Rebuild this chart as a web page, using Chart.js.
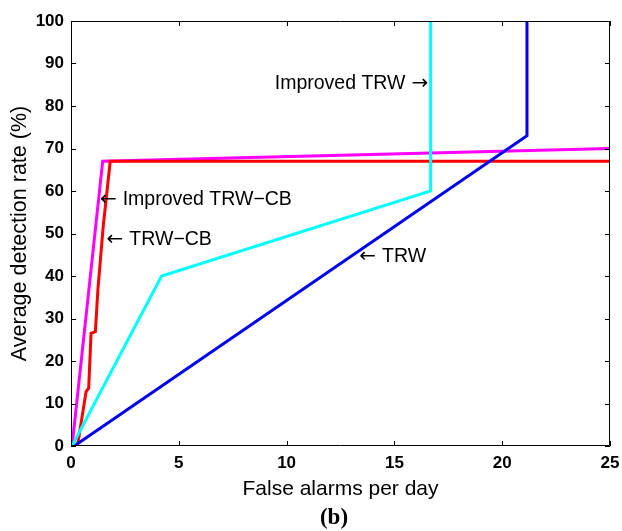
<!DOCTYPE html>
<html>
<head>
<meta charset="utf-8">
<script src="https://cdn.jsdelivr.net/npm/chart.js@4/dist/chart.umd.min.js"></script>
<style>
html,body{margin:0;padding:0;background:#fff;}
#wrap{width:622px;height:531px;}
</style>
</head>
<body>
<div id="wrap"><canvas id="c" width="622" height="531"></canvas></div>
<script>
// ---- data ----
const xTickValues = [0, 5, 10, 15, 20, 25];
const yTickValues = [0, 10, 20, 30, 40, 50, 60, 70, 80, 90, 100];

const trwX = [0.15, 21.15, 21.15];
const trwY = [0, 73, 100];

const improvedTrwX = [0.05, 4.2, 16.68, 16.68];
const improvedTrwY = [0, 40, 60, 100];

const trwCbX = [0.08, 0.3, 0.7, 0.82, 0.93, 1.13, 1.25, 1.5, 1.82, 25];
const trwCbY = [0, 0, 12.8, 13.6, 26.5, 26.9, 37, 52, 67, 67];

const improvedTrwCbX = [0.05, 1.47, 25];
const improvedTrwCbY = [0, 67, 70];

const seriesNames = ['Improved TRW', 'TRW', 'TRW\u2212CB', 'Improved TRW\u2212CB'];

// annotation texts, arrow glyphs and their anchor (arrow tip side) in data units
const noteTexts = ['Improved TRW', 'Improved TRW\u2212CB', 'TRW\u2212CB', 'TRW'];
const noteArrows = ['\u2192', '\u2190', '\u2190', '\u2190'];
const noteX = [16.57, 1.34, 1.65, 13.37];
const noteY = [85.2, 57.9, 48.5, 44.5];
const noteSide = ['right', 'left', 'left', 'left'];

const captionText = '(b)';

function pts(xs, ys) { return xs.map((x, i) => ({x: x, y: ys[i]})); }

const framePlugin = {
  id: 'frame',
  afterDatasetsDraw(chart) {
    const {ctx, chartArea: a, scales: {x, y}} = chart;
    ctx.save();
    ctx.strokeStyle = '#000';
    ctx.lineWidth = 1;
    ctx.beginPath();
    ctx.rect(a.left + 0.5, a.top + 0.5, a.right - a.left - 1, a.bottom - a.top - 1);
    ctx.stroke();
    const tl = 5;
    ctx.beginPath();
    xTickValues.forEach(v => {
      const px = Math.round(x.getPixelForValue(v)) + 0.5;
      ctx.moveTo(px, a.bottom); ctx.lineTo(px, a.bottom - tl);
      ctx.moveTo(px, a.top); ctx.lineTo(px, a.top + tl);
    });
    yTickValues.forEach(v => {
      const py = Math.round(y.getPixelForValue(v)) + 0.5;
      ctx.moveTo(a.left, py); ctx.lineTo(a.left + tl, py);
      ctx.moveTo(a.right, py); ctx.lineTo(a.right - tl, py);
    });
    ctx.stroke();
    // annotations
    const textFont = '19.5px "Liberation Sans", Arial, sans-serif';
    const arrowFont = '20px "DejaVu Sans", sans-serif';
    ctx.fillStyle = '#000';
    ctx.textBaseline = 'middle';
    const gap = 6;
    noteTexts.forEach((t, i) => {
      const px = x.getPixelForValue(noteX[i]);
      const py = y.getPixelForValue(noteY[i]);
      ctx.font = arrowFont;
      const aw = ctx.measureText(noteArrows[i]).width;
      if (noteSide[i] === 'left') {
        ctx.textAlign = 'left';
        ctx.fillText(noteArrows[i], px, py);
        ctx.font = textFont;
        ctx.fillText(t, px + aw + gap, py);
      } else {
        ctx.textAlign = 'right';
        ctx.fillText(noteArrows[i], px, py);
        ctx.font = textFont;
        ctx.fillText(t, px - aw - gap, py);
      }
    });
    // caption
    ctx.font = 'bold 23px "Liberation Serif", "Times New Roman", serif';
    ctx.textAlign = 'center';
    ctx.textBaseline = 'alphabetic';
    ctx.fillText(captionText, 334, 524);
    ctx.restore();
  }
};

const tickFont = {family: '"Liberation Sans", Arial, sans-serif', size: 17, weight: 'bold'};
const titleFont = {family: '"Liberation Sans", Arial, sans-serif', size: 21, weight: 'normal'};

new Chart(document.getElementById('c'), {
  type: 'line',
  data: {
    datasets: [
      {label: seriesNames[0], data: pts(improvedTrwX, improvedTrwY), borderColor: '#00ffff'},
      {label: seriesNames[1], data: pts(trwX, trwY), borderColor: '#0000f0'},
      {label: seriesNames[2], data: pts(trwCbX, trwCbY), borderColor: '#ff0000'},
      {label: seriesNames[3], data: pts(improvedTrwCbX, improvedTrwCbY), borderColor: '#ff00ff'}
    ]
  },
  options: {
    responsive: false,
    animation: false,
    layout: {padding: {left: 0, right: 12, top: 21, bottom: 0}},
    plugins: {legend: {display: false}, tooltip: {enabled: false}},
    elements: {
      point: {radius: 0},
      line: {borderWidth: 3, tension: 0, fill: false}
    },
    scales: {
      x: {
        type: 'linear', min: 0, max: 25,
        afterBuildTicks: s => { s.ticks = xTickValues.map(v => ({value: v})); },
        afterFit: s => { s.height = 85; s.paddingLeft = 0; s.paddingRight = 0; },
        grid: {display: false, drawTicks: false},
        border: {display: false},
        ticks: {padding: 7, color: '#000', font: tickFont, maxRotation: 0, autoSkip: false},
        title: {display: true, text: 'False alarms per day', color: '#000', font: titleFont, padding: {top: 0, bottom: 28.7}}
      },
      y: {
        type: 'linear', min: 0, max: 100,
        afterBuildTicks: s => { s.ticks = yTickValues.map(v => ({value: v})); },
        afterFit: s => { s.width = 71; s.paddingTop = 0; s.paddingBottom = 0; },
        grid: {display: false, drawTicks: false},
        border: {display: false},
        ticks: {padding: 7, color: '#000', font: tickFont, autoSkip: false},
        title: {display: true, text: 'Average detection rate (%)', color: '#000', font: {family: '"Liberation Sans", Arial, sans-serif', size: 21.5}, padding: {top: 6.8, bottom: 0}}
      }
    }
  },
  plugins: [framePlugin]
});
</script>
</body>
</html>
